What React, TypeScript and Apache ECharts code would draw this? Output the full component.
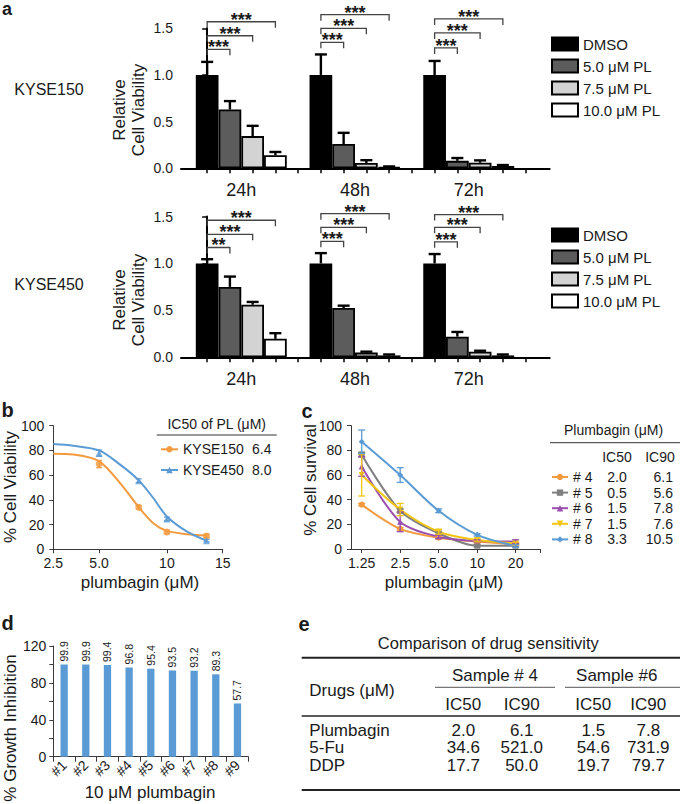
import React, { useEffect, useRef } from 'react';
import * as echarts from 'echarts';

const SANS = '"Liberation Sans", Arial, Helvetica, sans-serif';
const NARROW = '"Liberation Sans Narrow", "Arial Narrow", "Liberation Sans", Arial, sans-serif';
const INK = '#1a1a1a';

// ---------- Panel a : relative cell viability ----------
const timePoints = ['24h', '48h', '72h'];
const treatments = ['DMSO', '5.0 μM PL', '7.5 μM PL', '10.0 μM PL'];
const treatmentColors = ['#000000', '#5c5c5c', '#d3d3d3', '#ffffff'];
// values per time point (24h, 48h, 72h), each listing DMSO, 5.0, 7.5, 10.0
const kyse150Mean = [
  [1.0, 0.63, 0.345, 0.14],
  [1.0, 0.26, 0.057, 0.012],
  [1.0, 0.08, 0.06, 0.025],
];
const kyse150Err = [
  [0.14, 0.09, 0.11, 0.035],
  [0.22, 0.12, 0.03, 0.008],
  [0.15, 0.03, 0.025, 0.01],
];
const kyse450Mean = [
  [1.0, 0.75, 0.56, 0.197],
  [1.0, 0.525, 0.05, 0.02],
  [1.0, 0.22, 0.06, 0.02],
];
const kyse450Err = [
  [0.045, 0.11, 0.03, 0.06],
  [0.11, 0.025, 0.01, 0.01],
  [0.1, 0.05, 0.01, 0.01],
];
const kyse150SigLevels = [
  [1.275, 1.42, 1.57],
  [1.35, 1.5, 1.646],
  [1.29, 1.45, 1.6],
];
const kyse150SigMarks = [
  ['***', '***', '***'],
  ['***', '***', '***'],
  ['***', '***', '***'],
];
const kyse450SigLevels = [
  [1.17, 1.31, 1.46],
  [1.235, 1.385, 1.53],
  [1.23, 1.385, 1.52],
];
const kyse450SigMarks = [
  ['**', '***', '***'],
  ['***', '***', '***'],
  ['***', '***', '***'],
];
const aYTicks = [0, 0.5, 1.0, 1.5];

// ---------- Panel b : dose response ----------
const bLines = ['KYSE150', 'KYSE450'];
const bIC50 = [6.4, 8.0];
const bTickValues = [3.13, 5, 10, 17.7];
const bTickLabels = ['2.5', '5.0', '10', '15'];
const bDoses = [5, 7.5, 10, 15];
const b150Viability = [69, 34, 14, 10.8];
const b150Err = [3, 1.5, 1.5, 1.5];
const b450Viability = [77.8, 55.5, 24.6, 7];
const b450Err = [2.5, 1.5, 1.5, 1];
const bCurveDoses = [3.13, 3.84, 5, 6.2, 7.5, 8.7, 10, 12.3, 15];
const b150Curve = [77.3, 76.7, 71.2, 53.6, 34, 21.1, 14.9, 12.2, 11.1];
const b450Curve = [85.1, 83.8, 80, 68.5, 55.8, 41.5, 26.6, 14.3, 7];

// ---------- Panel c : primary samples ----------
const cSamples = ['# 4', '# 5', '# 6', '# 7', '# 8'];
const cDoses = [1.25, 2.5, 5, 10, 20];
const cTickLabels = ['1.25', '2.5', '5.0', '10', '20'];
const cSurvival4 = [36, 16.3, 9.2, 6, 3.8];
const cSurvival5 = [76.5, 31, 12.7, 2.7, 2.7];
const cSurvival6 = [67, 22, 10, 6.5, 6];
const cSurvival7 = [60, 32, 14, 7.3, 4.6];
const cSurvival8 = [87, 60, 31, 11.5, 2.5];
const cErr4 = [1, 1, 1, 1, 1];
const cErr5 = [2, 1.5, 1, 1, 1];
const cErr6 = [8, 8, 1.5, 1, 1.5];
const cErr7 = [17, 5, 2, 1.5, 1];
const cErr8 = [9.5, 6, 1.5, 1, 1];
const cIC50 = [2.0, 0.5, 1.5, 1.5, 3.3];
const cIC90 = [6.1, 5.6, 7.8, 7.6, 10.5];

// ---------- Panel d : growth inhibition ----------
const dSamples = ['#1', '#2', '#3', '#4', '#5', '#6', '#7', '#8', '#9'];
const dInhibition = [99.9, 99.9, 99.4, 96.8, 95.4, 93.5, 93.2, 89.3, 57.7];

// ---------- Panel e : drug sensitivity table ----------
const eDrugs = ['Plumbagin', '5-Fu', 'DDP'];
const eS4IC50 = [2.0, 34.6, 17.7];
const eS4IC90 = [6.1, 521.0, 50.0];
const eS6IC50 = [1.5, 54.6, 19.7];
const eS6IC90 = [7.8, 731.9, 79.7];

const ORANGE = '#f39a3e';
const BLUE = '#5b9bd5';
const cColors = ['#f39a3e', '#808080', '#9a4eaf', '#f2c514', '#5b9bd5'];
const cSymbols = ['circle', 'rect', 'triangle', 'path://M0,0 L10,0 L5,9 Z', 'diamond'];

function errSeries(axis: number, pts: number[][], color: string, half: number, lw: number, z = 4): any {
  return {
    type: 'custom',
    xAxisIndex: axis,
    yAxisIndex: axis,
    z,
    silent: true,
    data: pts,
    renderItem: (_p: any, api: any) => {
      const x = api.value(0);
      const y = api.value(1);
      const e = api.value(2);
      const both = api.value(3) === 1;
      const a = api.coord([x, y]);
      const top = api.coord([x, y + e]);
      const low = both ? api.coord([x, y - e]) : a;
      const children: any[] = [
        { type: 'line', shape: { x1: low[0], y1: low[1], x2: top[0], y2: top[1] }, style: { stroke: color, lineWidth: lw } },
        { type: 'line', shape: { x1: top[0] - half, y1: top[1], x2: top[0] + half, y2: top[1] }, style: { stroke: color, lineWidth: lw } },
      ];
      if (both) {
        children.push({ type: 'line', shape: { x1: low[0] - half, y1: low[1], x2: low[0] + half, y2: low[1] }, style: { stroke: color, lineWidth: lw } });
      }
      return { type: 'group', children };
    },
  };
}

function bracketSeries(axis: number, levels: number[][], marks: string[][]): any {
  const data: number[][] = [];
  const labels: string[] = [];
  levels.forEach((row, g) => {
    row.forEach((lv, k) => {
      data.push([g * 5, g * 5 + k + 1, lv]);
      labels.push(marks[g][k]);
    });
  });
  return {
    type: 'custom',
    xAxisIndex: axis,
    yAxisIndex: axis,
    z: 5,
    silent: true,
    clip: false,
    data,
    renderItem: (p: any, api: any) => {
      const a = api.coord([api.value(0), api.value(2)]);
      const b = api.coord([api.value(1), api.value(2)]);
      const drop = 6;
      return {
        type: 'group',
        children: [
          {
            type: 'polyline',
            shape: { points: [[a[0], a[1] + drop], [a[0], a[1]], [b[0], b[1]], [b[0], b[1] + drop]] },
            style: { stroke: '#444', lineWidth: 1.3, fill: 'none' },
          },
          {
            type: 'text',
            x: (a[0] + b[0]) / 2,
            y: a[1] - 2,
            style: {
              text: labels[p.dataIndex], fontSize: 18, fontWeight: 'bold', lineHeight: 9, fontFamily: SANS, fill: INK,
              align: 'center', verticalAlign: 'middle',
            },
          },
        ],
      };
    },
  };
}

function panelASeries(axis: number, mean: number[][], err: number[][]): any[] {
  const out: any[] = [];
  treatments.forEach((name, i) => {
    out.push({
      type: 'bar',
      name,
      xAxisIndex: axis,
      yAxisIndex: axis,
      barWidth: 22.7,
      barGap: '-100%',
      z: 2,
      data: timePoints.map((_, g) => [g * 5 + i, mean[g][i]]),
      itemStyle: { color: treatmentColors[i], borderColor: '#000', borderWidth: 1.8 },
    });
  });
  const pts: number[][] = [];
  timePoints.forEach((_, g) => treatments.forEach((__, i) => pts.push([g * 5 + i, mean[g][i], err[g][i], 0])));
  out.push(errSeries(axis, pts, '#000', 6, 2.4, 3));
  return out;
}

function aXAxis(grid: number): any {
  return {
    type: 'value',
    gridIndex: grid,
    min: -1.15,
    max: 15.06,
    splitLine: { show: false },
    axisLine: { lineStyle: { color: '#000', width: 2 } },
    axisTick: { customValues: Array.from({ length: 15 }, (_, i) => i), length: 5, lineStyle: { color: '#000', width: 1.5 } },
    axisLabel: {
      customValues: timePoints.map((_, g) => g * 5 + 1.5),
      formatter: (v: number) => timePoints[Math.round((v - 1.5) / 5)],
      fontSize: 18,
      fontFamily: NARROW,
      color: INK,
      margin: 13,
    },
  };
}
function aYAxis(grid: number): any {
  return {
    type: 'value',
    gridIndex: grid,
    min: 0,
    max: 1.5,
    interval: 0.5,
    splitLine: { show: false },
    axisLine: { show: true, lineStyle: { color: '#000', width: 2 } },
    axisTick: { show: true, length: 5, lineStyle: { color: '#000', width: 1.5 } },
    axisLabel: { formatter: (v: number) => v.toFixed(1), fontSize: 14, fontFamily: NARROW, color: INK, margin: 8, customValues: aYTicks },
  };
}

function lineAxisStyle(): any {
  return {
    splitLine: { show: false },
    axisLine: { show: true, lineStyle: { color: '#3a3a3a', width: 1 } },
    axisTick: { show: true, length: 4, lineStyle: { color: '#3a3a3a', width: 1 } },
  };
}

function txt(x: number, y: number, text: string, size: number, extra: any = {}): any {
  const { align = 'center', vAlign = 'middle', weight = 'normal', rotation = 0, family = SANS, color = INK, lineHeight } = extra;
  return {
    type: 'text',
    x,
    y,
    rotation,
    style: { text, fontSize: size, fontFamily: family, fontWeight: weight, fill: color, align, verticalAlign: vAlign, lineHeight },
  };
}
function hline(x1: number, x2: number, y: number, w = 1, color = '#333'): any {
  return { type: 'line', shape: { x1, y1: y, x2, y2: y }, style: { stroke: color, lineWidth: w } };
}

function buildOption(): any {
  const series: any[] = [];
  series.push(...panelASeries(0, kyse150Mean, kyse150Err));
  series.push(bracketSeries(0, kyse150SigLevels, kyse150SigMarks));
  series.push(...panelASeries(1, kyse450Mean, kyse450Err));
  series.push(bracketSeries(1, kyse450SigLevels, kyse450SigMarks));

  // panel b
  const bSets = [
    { name: bLines[0], curve: b150Curve, pts: b150Viability, err: b150Err, color: ORANGE, symbol: 'circle' },
    { name: bLines[1], curve: b450Curve, pts: b450Viability, err: b450Err, color: BLUE, symbol: 'triangle' },
  ];
  bSets.forEach((s) => {
    series.push({
      type: 'line',
      name: s.name,
      xAxisIndex: 2,
      yAxisIndex: 2,
      smooth: 0.3,
      symbol: s.symbol,
      symbolSize: 7,
      showSymbol: false,
      data: bCurveDoses.map((d, i) => [d, s.curve[i]]),
      lineStyle: { color: s.color, width: 2 },
      itemStyle: { color: s.color },
    });
    series.push({
      type: 'scatter',
      xAxisIndex: 2,
      yAxisIndex: 2,
      symbol: s.symbol,
      symbolSize: 7,
      z: 5,
      data: bDoses.map((d, i) => [d, s.pts[i]]),
      itemStyle: { color: s.color },
    });
    series.push(errSeries(2, bDoses.map((d, i) => [d, s.pts[i], s.err[i], 1]), s.color, 3, 1.2, 4));
  });

  // panel c
  const cVals = [cSurvival4, cSurvival5, cSurvival6, cSurvival7, cSurvival8];
  const cErrs = [cErr4, cErr5, cErr6, cErr7, cErr8];
  cSamples.forEach((name, k) => {
    series.push({
      type: 'line',
      name,
      xAxisIndex: 3,
      yAxisIndex: 3,
      smooth: 0.3,
      symbol: cSymbols[k],
      symbolSize: 6,
      showSymbol: true,
      data: cDoses.map((d, i) => [d, cVals[k][i]]),
      lineStyle: { color: cColors[k], width: 2 },
      itemStyle: { color: cColors[k] },
      z: 3 + k * 0.1,
    });
    series.push(errSeries(3, cDoses.map((d, i) => [d, cVals[k][i], cErrs[k][i], 1]), cColors[k], 3.5, 1.3, 4));
  });

  // panel d
  series.push({
    type: 'bar',
    xAxisIndex: 4,
    yAxisIndex: 4,
    barWidth: 7.3,
    data: dInhibition,
    itemStyle: { color: '#5b9bd5' },
    label: {
      show: true,
      position: 'top',
      rotate: 90,
      align: 'left',
      verticalAlign: 'middle',
      distance: 3,
      fontSize: 10.5,
      color: INK,
      fontFamily: SANS,
      formatter: (p: any) => p.value.toFixed(1),
    },
  });

  // ---------- graphic ----------
  const g: any[] = [];
  // panel a
  g.push(txt(7, 0, 'a', 18, { weight: 'bold', vAlign: 'top' }));
  g.push(txt(49, 89, 'KYSE150', 16, { family: NARROW }));
  g.push(txt(49, 284, 'KYSE450', 16, { family: NARROW }));
  g.push(txt(129, 110, 'Relative\nCell Viability', 17, { rotation: Math.PI / 2, family: NARROW, lineHeight: 19 }));
  g.push(txt(129, 300, 'Relative\nCell Viability', 17, { rotation: Math.PI / 2, family: NARROW, lineHeight: 19 }));

  // panel b
  g.push(txt(7.5, 410, 'b', 20, { weight: 'bold' }));
  g.push(txt(10, 487, '% Cell Viability', 17, { rotation: Math.PI / 2 }));
  g.push(txt(140, 582, 'plumbagin (μM)', 17));
  g.push(txt(216.7, 424.3, 'IC50 of PL (μM)', 14));
  g.push(hline(156.7, 276.7, 435, 1, '#333'));
  bIC50.forEach((v, i) => g.push(txt(252, 449.3 + i * 20.7, v.toFixed(1), 14, { align: 'left' })));

  // panel c
  g.push(txt(307, 411, 'c', 20, { weight: 'bold' }));
  g.push(txt(310, 480, '% Cell survival', 17, { rotation: Math.PI / 2 }));
  g.push(txt(444, 582, 'plumbagin (μM)', 17));
  g.push(txt(613.5, 430, 'Plumbagin (μM)', 14));
  g.push(hline(550, 680, 442.7, 1, '#333'));
  g.push(txt(617, 457.3, 'IC50', 14));
  g.push(txt(660, 457.3, 'IC90', 14));
  cSamples.forEach((_, i) => {
    g.push(txt(617, 477 + i * 15.6, cIC50[i].toFixed(1), 14));
    g.push(txt(673, 477 + i * 15.6, cIC90[i].toFixed(1), 14, { align: 'right' }));
  });

  // panel d
  g.push(txt(7.5, 623, 'd', 20, { weight: 'bold' }));
  g.push(txt(10, 728, '% Growth Inhibition', 17, { rotation: Math.PI / 2 }));
  g.push(txt(150, 792, '10 μM plumbagin', 17));

  // panel e
  g.push(txt(304, 624, 'e', 20, { weight: 'bold' }));
  g.push(txt(488.3, 643.3, 'Comparison of drug sensitivity', 16.5));
  g.push(hline(301.7, 680, 657.7, 2, '#222'));
  g.push(txt(309.3, 690, 'Drugs (μM)', 17, { align: 'left' }));
  g.push(txt(495, 675, 'Sample # 4', 17));
  g.push(txt(616.7, 675, 'Sample #6', 17));
  g.push(hline(435, 555, 687.3, 1, '#555'));
  g.push(hline(565, 680, 687.3, 1, '#555'));
  const eCols = [463.3, 521.7, 593.3, 648.3];
  ['IC50', 'IC90', 'IC50', 'IC90'].forEach((h, i) => g.push(txt(eCols[i], 704.3, h, 17)));
  g.push(hline(301.7, 680, 716, 1.3, '#222'));
  const eRowsY = [730, 747.7, 765];
  eDrugs.forEach((d, r) => {
    g.push(txt(309.3, eRowsY[r], d, 17, { align: 'left' }));
    [eS4IC50, eS4IC90, eS6IC50, eS6IC90].forEach((arr, c) => g.push(txt(eCols[c], eRowsY[r], arr[r].toFixed(1), 17)));
  });
  g.push(hline(301.7, 680, 790, 2, '#222'));

  const legendBase = { orient: 'vertical', selectedMode: false, padding: 0 };
  return {
    animation: false,
    backgroundColor: '#ffffff',
    textStyle: { fontFamily: SANS },
    grid: [
      { left: 181, top: 28.3, width: 368.7, height: 140 },
      { left: 181, top: 216.5, width: 368.7, height: 140.8 },
      { left: 53.3, top: 425.7, width: 169.4, height: 123.6 },
      { left: 351, top: 425.7, width: 189.7, height: 123.3 },
      { left: 53.3, top: 646, width: 195, height: 110.7 },
    ],
    xAxis: [
      aXAxis(0),
      aXAxis(1),
      {
        type: 'log',
        gridIndex: 2,
        logBase: 10,
        min: bTickValues[0],
        max: bTickValues[bTickValues.length - 1],
        ...lineAxisStyle(),
        axisTick: { show: true, length: 4, customValues: bTickValues, lineStyle: { color: '#3a3a3a' } },
        axisLabel: {
          customValues: bTickValues,
          formatter: (v: number) => bTickLabels[bTickValues.findIndex((t) => Math.abs(t - v) < 1e-3)] ?? '',
          fontSize: 14,
          color: INK,
          margin: 7,
        },
      },
      {
        type: 'log',
        gridIndex: 3,
        logBase: 2,
        min: 1.031,
        max: 31.4,
        ...lineAxisStyle(),
        axisTick: { show: true, length: 4, customValues: [...cDoses, 31.4], lineStyle: { color: '#3a3a3a' } },
        axisLabel: {
          customValues: cDoses,
          formatter: (v: number) => cTickLabels[cDoses.findIndex((t) => Math.abs(t - v) < 1e-3)] ?? '',
          fontSize: 14,
          color: INK,
          margin: 7,
        },
      },
      {
        type: 'category',
        gridIndex: 4,
        data: dSamples,
        ...lineAxisStyle(),
        axisTick: { show: true, length: 5, lineStyle: { color: '#3a3a3a' } },
        axisLabel: { rotate: 45, fontSize: 14, color: INK, margin: 6, interval: 0 },
      },
    ],
    yAxis: [
      aYAxis(0),
      aYAxis(1),
      {
        type: 'value', gridIndex: 2, min: 0, max: 100, interval: 20, ...lineAxisStyle(),
        axisLabel: { fontSize: 14, color: INK, margin: 9 },
      },
      {
        type: 'value', gridIndex: 3, min: 0, max: 100, interval: 20, ...lineAxisStyle(),
        axisLabel: { fontSize: 14, color: INK, margin: 9 },
      },
      {
        type: 'value', gridIndex: 4, min: 0, max: 120, interval: 20, ...lineAxisStyle(),
        axisLabel: { fontSize: 14, color: INK, margin: 7, formatter: (v: number) => (v % 40 === 0 ? String(v) : '') },
      },
    ],
    legend: [
      {
        ...legendBase, data: treatments, left: 551, top: 36.5, itemWidth: 26, itemHeight: 13, itemGap: 7,
        icon: 'rect', textStyle: { fontSize: 15, fontFamily: NARROW, color: INK, lineHeight: 13 },
      },
      {
        ...legendBase, data: treatments, left: 551, top: 227.5, itemWidth: 26, itemHeight: 13, itemGap: 7,
        icon: 'rect', textStyle: { fontSize: 15, fontFamily: NARROW, color: INK, lineHeight: 13 },
      },
      {
        ...legendBase, data: bLines, left: 160, top: 442.3, itemWidth: 17, itemHeight: 8, itemGap: 6.7,
        textStyle: { fontSize: 14, color: INK, lineHeight: 14 },
      },
      {
        ...legendBase, data: cSamples, left: 551, top: 470, itemWidth: 16, itemHeight: 8, itemGap: 1.6,
        textStyle: { fontSize: 14, color: INK, lineHeight: 14 },
      },
    ],
    series,
    graphic: { elements: g },
  };
}

export default function App() {
  const ref = useRef<HTMLDivElement>(null);
  useEffect(() => {
    if (!ref.current) return;
    const chart = echarts.init(ref.current, null, { renderer: 'svg' });
    chart.setOption(buildOption());
    return () => chart.dispose();
  }, []);
  return (
    <div
      ref={ref}
      style={{ position: 'absolute', left: 0, top: 0, width: 685, height: 804, background: '#fff' }}
    />
  );
}
